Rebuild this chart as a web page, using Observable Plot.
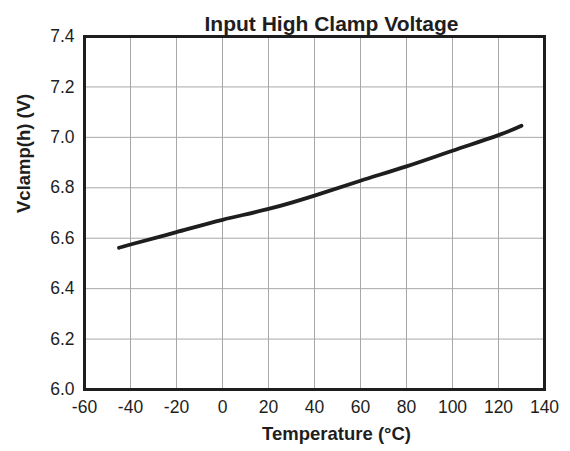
<!DOCTYPE html>
<html>
<head>
<meta charset="utf-8">
<script src="https://cdn.jsdelivr.net/npm/d3@7"></script>
<script src="https://cdn.jsdelivr.net/npm/@observablehq/plot@0.6"></script>
<style>
  html, body { margin: 0; padding: 0; background: #fff; }
</style>
</head>
<body>
<div id="chart"></div>
<script>
const temperature = [-45, -40, -20, 0, 20, 40, 60, 80, 100, 120, 130];
const vclamp = [6.562, 6.575, 6.624, 6.673, 6.716, 6.769, 6.828, 6.885, 6.947, 7.009, 7.046];
const xTicks = [-60, -40, -20, 0, 20, 40, 60, 80, 100, 120, 140];
const yTicks = [6.0, 6.2, 6.4, 6.6, 6.8, 7.0, 7.2, 7.4];
const title = "Input High Clamp Voltage";
const xLabel = "Temperature (°C)";
const yLabel = "Vclamp(h) (V)";

const data = temperature.map((t, i) => ({t, v: vclamp[i]}));
const ink = "#1e1e1e";

const chart = Plot.plot({
  width: 570,
  height: 451,
  marginLeft: 84,
  marginRight: 26,
  marginTop: 36,
  marginBottom: 62,
  style: {fontFamily: "'Liberation Sans', Arial, sans-serif", fontSize: "17px", color: ink, background: "#fff"},
  x: {domain: [-60, 140]},
  y: {domain: [6.0, 7.4]},
  marks: [
    Plot.gridX(xTicks, {stroke: "#a8a8a8", strokeOpacity: 1, strokeWidth: 1}),
    Plot.gridY(yTicks, {stroke: "#a8a8a8", strokeOpacity: 1, strokeWidth: 1}),
    Plot.line(data, {x: "t", y: "v", curve: "natural", stroke: ink, strokeWidth: 3.8, strokeLinecap: "round"}),
    Plot.frame({stroke: ink, strokeWidth: 3}),
    Plot.axisX(xTicks, {tickSize: 0, tickPadding: 11, fontSize: 17.5, label: null, fill: ink, tickFormat: d => String(d)}),
    Plot.axisY(yTicks, {tickSize: 0, tickPadding: 10, fontSize: 17.5, label: null, fill: ink, tickFormat: d => d.toFixed(1)}),
    Plot.text([title], {frameAnchor: "top", dx: 17, dy: -20, fontSize: 21, fontWeight: "bold", fill: ink}),
    Plot.text([xLabel], {frameAnchor: "bottom", dx: 22, dy: 50, fontSize: 18.5, fontWeight: "bold", fill: ink}),
    Plot.text([yLabel], {frameAnchor: "left", dx: -60, dy: 0, rotate: -90, fontSize: 18.5, fontWeight: "bold", fill: ink})
  ]
});
document.getElementById("chart").appendChild(chart);
</script>
</body>
</html>
